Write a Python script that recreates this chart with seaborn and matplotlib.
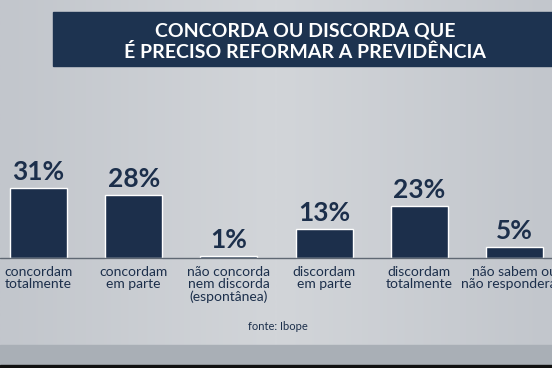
import numpy as np
import pandas as pd
import seaborn as sns
import matplotlib
matplotlib.use("Agg")
from matplotlib import pyplot as plt
from matplotlib.patches import Rectangle
from matplotlib.colors import LinearSegmentedColormap

# data
categories = ["concordam\ntotalmente", "concordam\nem parte",
              "não concorda\nnem discorda\n(espontânea)", "discordam\nem parte",
              "discordam\ntotalmente", "não sabem ou\nnão responderam"]
values = [31, 28, 1, 13, 23, 5]
title_lines = ["CONCORDA OU DISCORDA QUE", "É PRECISO REFORMAR A PREVIDÊNCIA"]
source = "fonte: Ibope"

df = pd.DataFrame({"cat": categories, "pct": values})

navy = "#1c2f4b"
bg = "#c9cdd2"

sns.set_theme(style="white")
plt.rcParams["font.family"] = ["Lato", "DejaVu Sans"]

fig = plt.figure(figsize=(5.52, 3.68), dpi=100)
fig.patch.set_facecolor(bg)

# soft horizontal shading of the studio backdrop
bg_ax = fig.add_axes([0, 0, 1, 1], zorder=-1)
shade = np.abs(np.linspace(-1, 1, 200))[None, :]
bg_cmap = LinearSegmentedColormap.from_list("bg", ["#d2d5d9", "#c2c6cc"])
bg_ax.imshow(shade, aspect="auto", cmap=bg_cmap, extent=(0, 1, 0, 1))
bg_ax.axis("off")

ax = fig.add_axes([0, 0, 1, 1])
ax.patch.set_alpha(0)

sns.barplot(data=df, x="cat", y="pct", color=navy, width=0.6,
            saturation=1, ax=ax)

# map baseline to ~110px from bottom, 2.26px per percent
ax.set_xlim(-0.404, 5.394)
ax.set_ylim(-110 / 2.26, (368 - 110) / 2.26)
ax.axis("off")

ax.axhline(0, color="#5f6873", lw=1.0, zorder=1)

for i, (c, v) in enumerate(zip(categories, values)):
    ax.text(i, v + 1.8, f"{v}%", ha="center", va="bottom", fontsize=19,
            fontweight="bold", color=navy)
    ax.text(i, -3.5, c, ha="center", va="top", fontsize=10, color=navy,
            linespacing=1.05)

# title banner
fig.patches.append(Rectangle((53 / 552, 1 - 66 / 368), 1, 54 / 368,
                             transform=fig.transFigure, color="#1d3350", zorder=0))
fig.text(305 / 552, 1 - 31 / 368, title_lines[0], ha="center", va="center",
         color="white", fontsize=14, fontweight="bold")
fig.text(305 / 552, 1 - 52 / 368, title_lines[1], ha="center", va="center",
         color="white", fontsize=14, fontweight="bold")

fig.text(278 / 552, 1 - 326 / 368, source, ha="center", va="center",
         color=navy, fontsize=8)

# darker strip at the bottom
fig.patches.append(Rectangle((0, 0), 1, 23 / 368, transform=fig.transFigure,
                             color="#a9afb6", zorder=0))
fig.patches.append(Rectangle((0, 0), 1, 3 / 368, transform=fig.transFigure,
                             color="#111111", zorder=0))

fig.savefig("out.png", dpi=100, facecolor=bg)
